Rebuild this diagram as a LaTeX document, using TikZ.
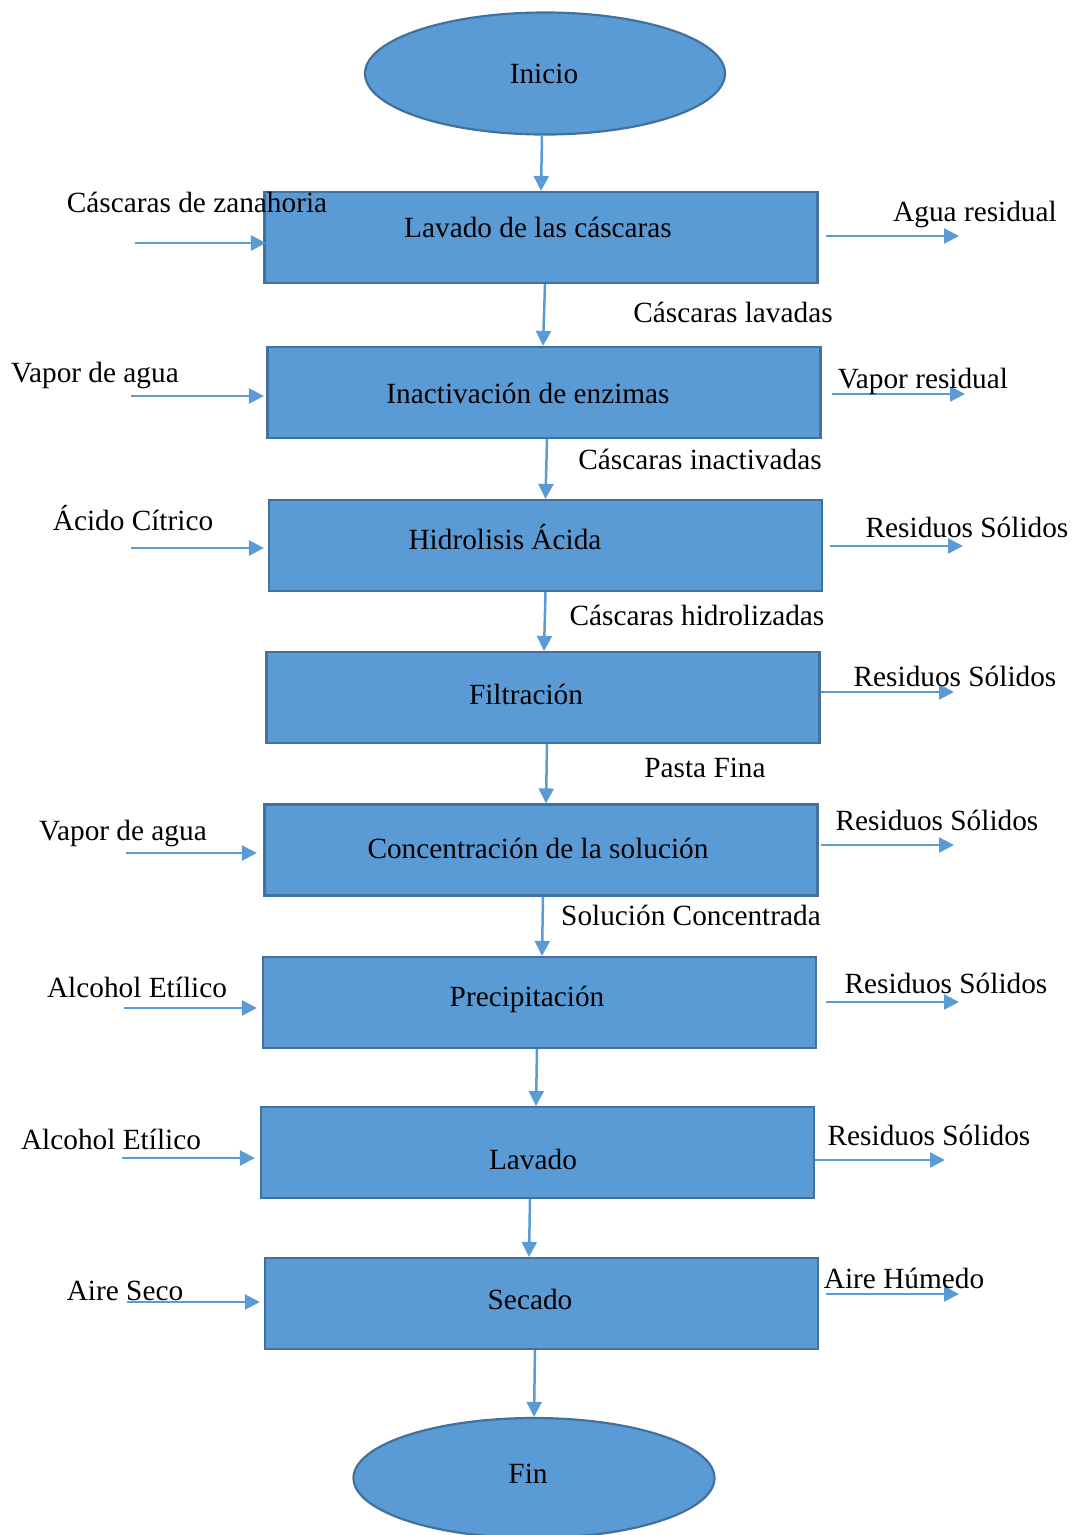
\documentclass[tikz,border=0pt]{standalone}
\usepackage{fontspec}
\setmainfont{Liberation Serif}
\usetikzlibrary{arrows.meta,shapes.geometric,calc}
\definecolor{boxfill}{HTML}{5B9BD5}
\definecolor{boxedge}{HTML}{41719C}
\definecolor{arrowc}{HTML}{5B9BD5}
\begin{document}
\begin{tikzpicture}[x=1pt,y=-1pt,
  proc/.style={draw=boxedge,fill=boxfill,line width=2.2pt,rectangle,minimum width=553pt,minimum height=91pt,inner sep=0pt},
  term/.style={draw=boxedge,fill=boxfill,line width=2.2pt,ellipse,minimum width=360pt,minimum height=122pt,inner sep=0pt},
  lbl/.style={font=\fontsize{29.3pt}{35pt}\selectfont,anchor=base,inner sep=0pt},
  flowarrow/.style={draw=arrowc,line width=2.5pt,-{Triangle[length=15pt,width=15pt]}}]
\useasboundingbox (0,0) rectangle (1074,1535);

% shapes
\node[term] (st) at (545,73.5) {};
\node[proc] (b1) at (541,237.5) {};
\node[proc] (b2) at (544,392.5) {};
\node[proc] (b3) at (545.5,545.5) {};
\node[proc] (b4) at (543,697.5) {};
\node[proc] (b5) at (541,850) {};
\node[proc] (b6) at (539.5,1002.5) {};
\node[proc] (b7) at (537.5,1152.5) {};
\node[proc] (b8) at (541.5,1303.5) {};
\node[term,minimum width=361pt,minimum height=120pt] (fin) at (534,1478) {};

% main flow
\draw[flowarrow] ([xshift=-3pt]st.south) -- (b1.north);
\draw[flowarrow] ([xshift=4pt]b1.south) -- ([xshift=-1pt]b2.north);
\draw[flowarrow] ([xshift=3pt]b2.south) -- (b3.north);
\draw[flowarrow] (b3.south) -- ([xshift=1pt]b4.north);
\draw[flowarrow] ([xshift=4pt]b4.south) -- ([xshift=5pt]b5.north);
\draw[flowarrow] ([xshift=2pt]b5.south) -- ([xshift=2.5pt]b6.north);
\draw[flowarrow] ([xshift=-2.5pt]b6.south) -- ([xshift=-1.5pt]b7.north);
\draw[flowarrow] ([xshift=-7.5pt]b7.south) -- ([xshift=-12.5pt]b8.north);
\draw[flowarrow] ([xshift=-6.5pt]b8.south) -- (fin.north);

% inputs
\coordinate (in1) at (135,243);
\coordinate (in2) at (131,396);
\coordinate (in3) at (131,548);
\coordinate (in5) at (126,853);
\coordinate (in6) at (124,1008);
\coordinate (in7) at (122,1158);
\coordinate (in8) at (127,1302);
\draw[flowarrow] (in1) -- ($(in1 -| b1.west)+(2.5,0)$);
\draw[flowarrow] (in2) -- ($(in2 -| b2.west)+(-2.5,0)$);
\draw[flowarrow] (in3) -- ($(in3 -| b3.west)+(-4,0)$);
\draw[flowarrow] (in5) -- ($(in5 -| b5.west)+(-6.5,0)$);
\draw[flowarrow] (in6) -- ($(in6 -| b6.west)+(-5,0)$);
\draw[flowarrow] (in7) -- ($(in7 -| b7.west)+(-5,0)$);
\draw[flowarrow] (in8) -- ($(in8 -| b8.west)+(-4,0)$);

% outputs
\coordinate (out1) at (959,236);
\coordinate (out2) at (965,394);
\coordinate (out3) at (963,546);
\coordinate (out4) at (954,692);
\coordinate (out5) at (954,845);
\coordinate (out6) at (959,1002);
\coordinate (out7) at (945,1160);
\coordinate (out8) at (959,1294);
\draw[flowarrow] ($(out1 -| b1.east)+(7.5,0)$) -- (out1);
\draw[flowarrow] ($(out2 -| b2.east)+(10.5,0)$) -- (out2);
\draw[flowarrow] ($(out3 -| b3.east)+(7,0)$) -- (out3);
\draw[flowarrow] (out4 -| b4.east) -- (out4);
\draw[flowarrow] ($(out5 -| b5.east)+(2.5,0)$) -- (out5);
\draw[flowarrow] ($(out6 -| b6.east)+(9,0)$) -- (out6);
\draw[flowarrow] (out7 -| b7.east) -- (out7);
\draw[flowarrow] ($(out8 -| b8.east)+(7,0)$) -- (out8);

% texts in shapes
\node[lbl] (tst) at (544,83) {Inicio};
\node[lbl] (t1) at (538,237) {Lavado de las cáscaras};
\node[lbl] (t2) at (528,403) {Inactivación de enzimas};
\node[lbl] (t3) at (505,549) {Hidrolisis Ácida};
\node[lbl] (t4) at (526,704) {Filtración};
\node[lbl] (t5) at (538,858) {Concentración de la solución};
\node[lbl] (t6) at (527,1006) {Precipitación};
\node[lbl] (t7) at (533,1169) {Lavado};
\node[lbl] (t8) at (530,1309) {Secado};
\node[lbl] (tfin) at (528,1483) {Fin};

% intermediate labels
\node[lbl] (m1) at (733,322) {Cáscaras lavadas};
\node[lbl] (m2) at (700,469) {Cáscaras inactivadas};
\node[lbl] (m3) at (697,625) {Cáscaras hidrolizadas};
\node[lbl] (m4) at (705,777) {Pasta Fina};
\node[lbl] (m5) at (691,925) {Solución Concentrada};

% input labels
\node[lbl] (l1) at (197,212) {Cáscaras de zanahoria};
\node[lbl] (l2) at (95,382) {Vapor de agua};
\node[lbl] (l3) at (133,530) {Ácido Cítrico};
\node[lbl] (l5) at (123,840) {Vapor de agua};
\node[lbl] (l6) at (137,997) {Alcohol Etílico};
\node[lbl] (l7) at (111,1149) {Alcohol Etílico};
\node[lbl] (l8) at (125,1300) {Aire Seco};

% output labels
\node[lbl] (r1) at (975,221) {Agua residual};
\node[lbl] (r2) at (923,388) {Vapor residual};
\node[lbl] (r3) at (967,537) {Residuos Sólidos};
\node[lbl] (r4) at (955,686) {Residuos Sólidos};
\node[lbl] (r5) at (937,830) {Residuos Sólidos};
\node[lbl] (r6) at (946,993) {Residuos Sólidos};
\node[lbl] (r7) at (929,1145) {Residuos Sólidos};
\node[lbl] (r8) at (904,1288) {Aire Húmedo};
\end{tikzpicture}
\end{document}
